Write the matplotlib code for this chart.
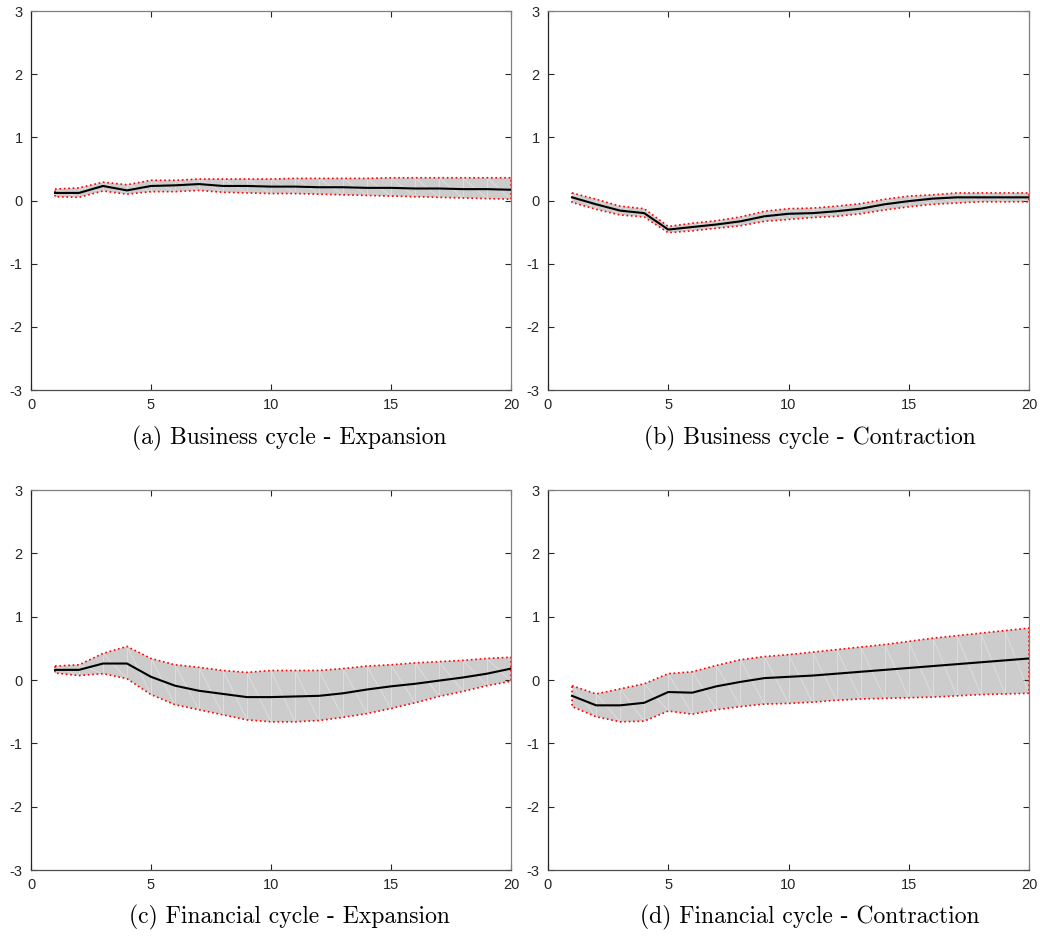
import numpy as np
import matplotlib
matplotlib.use('Agg')
import matplotlib.pyplot as plt

plt.rcParams['axes.unicode_minus'] = False

# horizon
h = np.arange(1, 21)

# (a) Business cycle - Expansion
a_mid = [0.12, 0.12, 0.23, 0.16, 0.23, 0.24, 0.26, 0.23, 0.23, 0.22,
         0.22, 0.21, 0.21, 0.20, 0.20, 0.19, 0.19, 0.18, 0.18, 0.17]
a_up = [0.18, 0.20, 0.29, 0.25, 0.32, 0.32, 0.34, 0.34, 0.34, 0.34,
        0.35, 0.35, 0.35, 0.35, 0.36, 0.36, 0.36, 0.36, 0.36, 0.36]
a_lo = [0.06, 0.05, 0.15, 0.10, 0.14, 0.14, 0.16, 0.13, 0.12, 0.11,
        0.11, 0.10, 0.09, 0.08, 0.07, 0.06, 0.05, 0.04, 0.03, 0.02]

# (b) Business cycle - Contraction
b_mid = [0.05, -0.06, -0.16, -0.20, -0.46, -0.42, -0.38, -0.33, -0.25, -0.21,
         -0.20, -0.17, -0.13, -0.06, -0.01, 0.03, 0.05, 0.05, 0.05, 0.05]
b_up = [0.12, 0.02, -0.09, -0.13, -0.41, -0.36, -0.32, -0.26, -0.17, -0.13,
        -0.12, -0.09, -0.05, 0.02, 0.07, 0.09, 0.12, 0.12, 0.12, 0.12]
b_lo = [-0.03, -0.14, -0.23, -0.26, -0.51, -0.48, -0.44, -0.40, -0.33, -0.30,
        -0.27, -0.25, -0.21, -0.15, -0.10, -0.06, -0.04, -0.02, -0.02, -0.02]

# (c) Financial cycle - Expansion
c_mid = [0.16, 0.16, 0.26, 0.26, 0.05, -0.09, -0.17, -0.22, -0.27, -0.27,
         -0.26, -0.25, -0.21, -0.15, -0.10, -0.06, -0.01, 0.04, 0.10, 0.18]
c_up = [0.22, 0.24, 0.42, 0.53, 0.34, 0.24, 0.20, 0.15, 0.12, 0.15,
        0.15, 0.15, 0.18, 0.22, 0.24, 0.27, 0.29, 0.31, 0.34, 0.36]
c_lo = [0.11, 0.07, 0.10, 0.02, -0.23, -0.39, -0.47, -0.55, -0.63, -0.66,
        -0.66, -0.64, -0.59, -0.53, -0.45, -0.36, -0.26, -0.18, -0.09, -0.02]

# (d) Financial cycle - Contraction
d_mid = [-0.25, -0.40, -0.40, -0.36, -0.19, -0.20, -0.10, -0.03, 0.03, 0.05,
         0.07, 0.10, 0.13, 0.16, 0.19, 0.22, 0.25, 0.28, 0.31, 0.34]
d_up = [-0.09, -0.22, -0.14, -0.06, 0.10, 0.13, 0.23, 0.32, 0.37, 0.40,
        0.44, 0.48, 0.52, 0.56, 0.61, 0.66, 0.70, 0.74, 0.78, 0.82]
d_lo = [-0.42, -0.58, -0.66, -0.65, -0.49, -0.54, -0.47, -0.42, -0.38, -0.37,
        -0.35, -0.32, -0.30, -0.29, -0.28, -0.27, -0.25, -0.23, -0.22, -0.21]

captions = ['(a) Business cycle - Expansion', '(b) Business cycle - Contraction',
            '(c) Financial cycle - Expansion', '(d) Financial cycle - Contraction']
panels = [(a_mid, a_up, a_lo), (b_mid, b_up, b_lo),
          (c_mid, c_up, c_lo), (d_mid, d_up, d_lo)]

fig = plt.figure(figsize=(10.4, 9.36), dpi=100)

W, H = 1040.0, 936.0
boxes = [(31, 11, 511, 390), (548, 11, 1029, 390),
         (31, 490, 511, 870), (548, 490, 1029, 870)]
cap_pos = [(289, 438), (810, 438), (289, 917), (810, 917)]

for i, (mid, up, lo) in enumerate(panels):
    x0, y0, x1, y1 = boxes[i]
    ax = fig.add_axes([x0 / W, 1 - y1 / H, (x1 - x0) / W, (y1 - y0) / H])
    up = np.array(up)
    lo = np.array(lo)
    xs = np.concatenate([h, h[::-1], h[:1]])
    ys = np.concatenate([up, lo[::-1], up[:1]])
    ax.fill(xs, ys, facecolor='#cccccc', edgecolor='none', zorder=1)
    # faint triangulation lines inside the band
    for k in range(len(h) - 1):
        ax.plot([h[k], h[k]], [lo[k], up[k]], color='#e0e0e0', lw=0.6, zorder=2)
        ax.plot([h[k], h[k + 1]], [up[k], lo[k + 1]], color='#e0e0e0', lw=0.6, zorder=2)
    ax.plot(xs, ys, color='red', ls=':', lw=1.2, zorder=3)
    ax.plot(h, mid, color='black', lw=1.5, zorder=4)

    ax.set_xlim(0, 20)
    ax.set_ylim(-3, 3)
    ax.set_xticks([0, 5, 10, 15, 20])
    ax.set_yticks([-3, -2, -1, 0, 1, 2, 3])
    ax.tick_params(direction='in', length=4, width=0.8, colors='0.15',
                   labelsize=10.5, top=True, right=True)
    ax.tick_params(axis='x', pad=6)
    ax.tick_params(axis='y', pad=6)
    for lab in ax.get_xticklabels() + ax.get_yticklabels():
        lab.set_fontfamily('Liberation Sans')
    ax.spines['left'].set_color('0.15')
    ax.spines['bottom'].set_color('0.3')
    ax.spines['top'].set_color('0.5')
    ax.spines['right'].set_color('0.5')
    for s in ax.spines.values():
        s.set_linewidth(0.9)

    cx, cy = cap_pos[i]
    fig.text(cx / W, 1 - cy / H, captions[i], ha='center', va='center',
             fontsize=17, family='cmr10')

fig.savefig('out.png', dpi=100)
